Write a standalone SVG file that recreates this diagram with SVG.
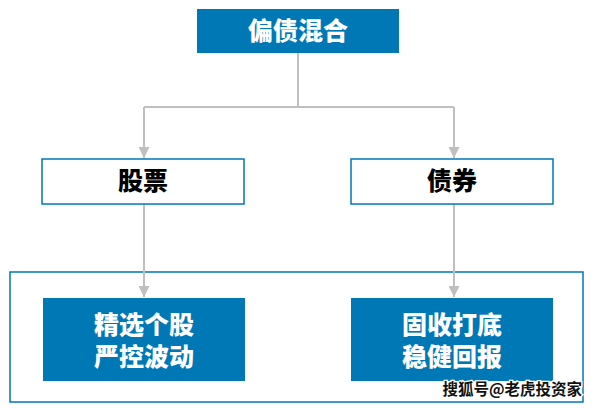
<svg xmlns="http://www.w3.org/2000/svg" width="595" height="409" viewBox="0 0 595 409">
<style>
.fill{fill:#0078B6;}
.outline{fill:#fff;stroke:#0078B6;stroke-width:1.5;}
.wt{fill:#fff;font-family:"Noto Sans CJK SC",sans-serif;font-weight:900;font-size:25px;text-anchor:middle;}
.bt{fill:#000;font-family:"Noto Sans CJK SC",sans-serif;font-weight:900;font-size:25px;text-anchor:middle;}
.ln{fill:none;stroke:#BFBFBF;stroke-width:2;}
</style>
<defs>
<marker id="ah" viewBox="0 0 10 10" refX="10" refY="5" markerWidth="5.5" markerHeight="5.5" markerUnits="strokeWidth" orient="auto">
<path d="M0,0 L10,5 L0,10 Z" fill="#BFBFBF"/>
</marker>
</defs>
<rect x="0" y="0" width="595" height="409" fill="#fff"/>
<g id="frame"><rect x="10" y="272" width="573" height="130" fill="none" stroke="#0078B6" stroke-width="1.5"/></g>
<g id="connectors">
<path class="ln" d="M298,53 V107 M144,107 H454"/>
<path class="ln" d="M144,107 V158" marker-end="url(#ah)"/>
<path class="ln" d="M454,107 V158" marker-end="url(#ah)"/>
<path class="ln" d="M144,204 V297" marker-end="url(#ah)"/>
<path class="ln" d="M454,204 V297" marker-end="url(#ah)"/>
</g>
<g id="top"><rect class="fill" x="197" y="9" width="202" height="44"/><text class="wt" x="298" y="40">偏债混合</text></g>
<g id="stock"><rect class="outline" x="42" y="159" width="202" height="45"/><text class="bt" x="143" y="190">股票</text></g>
<g id="bond"><rect class="outline" x="351" y="159" width="202" height="45"/><text class="bt" x="452" y="190">债券</text></g>
<g id="stockDetail"><rect class="fill" x="43" y="298" width="202" height="83"/><text class="wt" x="144" y="334">精选个股<tspan x="144" dy="32">严控波动</tspan></text></g>
<g id="bondDetail"><rect class="fill" x="351" y="298" width="202" height="83"/><text class="wt" x="452" y="334">固收打底<tspan x="452" dy="32">稳健回报</tspan></text></g>
<g id="watermark"><text x="582" y="395" text-anchor="end" font-family="Noto Sans CJK SC,sans-serif" font-size="15.5" font-weight="bold" fill="#111" stroke="#fff" stroke-width="2.5" paint-order="stroke">搜狐号@老虎投资家</text></g>
</svg>
